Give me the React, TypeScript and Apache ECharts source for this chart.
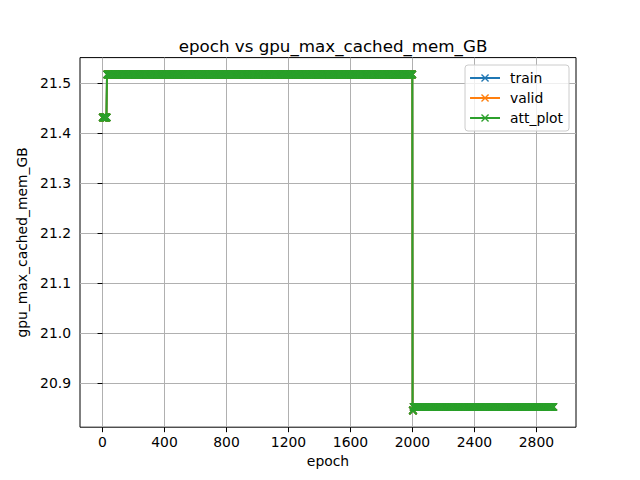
import React, { useEffect, useRef } from "react";
import * as echarts from "echarts";

// Constant-value segments (epoch ranges and values)
const segStartEpoch = [0, 29, 2001, 2007];
const segEndEpoch = [28, 2000, 2006, 2910];
const segValue = [21.431, 21.517, 20.845, 20.852];

const seriesNames = ["train", "valid", "att_plot"];
const seriesColors = ["#1f77b4", "#ff7f0e", "#2ca02c"];

const xTicks = [0, 400, 800, 1200, 1600, 2000, 2400, 2800];
const yTicks = [20.9, 21.0, 21.1, 21.2, 21.3, 21.4, 21.5];

const c = 1.2;
const xSymbol = `path://M${c},0L5,${5 - c}L${10 - c},0L10,${c}L${5 + c},5L10,${10 - c}L${10 - c},10L5,${5 + c}L${c},10L0,${10 - c}L${5 - c},5L0,${c}Z`;

function buildPoints(): number[][] {
  const pts: number[][] = [];
  for (let s = 0; s < segValue.length; s++) {
    for (let e = segStartEpoch[s]; e <= segEndEpoch[s]; e++) {
      pts.push([e, segValue[s]]);
    }
  }
  return pts;
}

export default function App() {
  const ref = useRef<HTMLDivElement>(null);
  useEffect(() => {
    if (!ref.current) return;
    const chart = echarts.init(ref.current, null, { renderer: "svg" });
    const pts = buildPoints();
    const xMin = segStartEpoch[0];
    const xMax = segEndEpoch[segEndEpoch.length - 1];
    const xPad = (xMax - xMin) * 0.05;
    const yMin = Math.min(...segValue);
    const yMax = Math.max(...segValue);
    const yPad = (yMax - yMin) * 0.05;
    const font = "DejaVu Sans";
    chart.setOption({
      animation: false,
      backgroundColor: "#ffffff",
      title: {
        text: "epoch vs gpu_max_cached_mem_GB",
        left: 328,
        top: 32,
        textAlign: "center",
        textStyle: { fontFamily: font, fontSize: 16.7, fontWeight: "normal", color: "#000" },
      },
      legend: {
        orient: "vertical",
        right: 71,
        top: 65,
        padding: [6, 6, 6, 4],
        itemGap: 6,
        itemWidth: 30,
        itemHeight: 10,
        backgroundColor: "rgba(255,255,255,0.8)",
        borderColor: "#cccccc",
        borderWidth: 1,
        borderRadius: 3,
        textStyle: { fontFamily: font, fontSize: 13.9, color: "#000", padding: [0, 0, 0, 5] },
        data: seriesNames,
      },
      grid: {
        left: 80,
        right: 64,
        top: 57.6,
        bottom: 52.8,
        show: true,
        borderColor: "#000",
        borderWidth: 1,
        backgroundColor: "transparent",
      },
      xAxis: {
        type: "value",
        min: xMin - xPad,
        max: xMax + xPad,
        name: "epoch",
        nameLocation: "middle",
        nameGap: 27,
        nameTextStyle: { fontFamily: font, fontSize: 13.9, color: "#000" },
        axisLine: { show: false },
        axisTick: { show: true, customValues: xTicks, length: 5, lineStyle: { color: "#000", width: 1 } },
        axisLabel: {
          customValues: xTicks,
          margin: 8,
          fontFamily: font,
          fontSize: 13.9,
          color: "#000",
          formatter: (v: number) => String(Math.round(v)),
        },
        splitLine: { show: true, lineStyle: { color: "#b0b0b0", width: 1 } },
      },
      yAxis: {
        type: "value",
        min: yMin - yPad,
        max: yMax + yPad,
        name: "gpu_max_cached_mem_GB",
        nameLocation: "middle",
        nameGap: 46,
        nameTextStyle: { fontFamily: font, fontSize: 13.9, color: "#000" },
        axisLine: { show: false },
        axisTick: { show: true, customValues: yTicks, length: 5, lineStyle: { color: "#000", width: 1 } },
        axisLabel: {
          customValues: yTicks,
          margin: 9,
          fontFamily: font,
          fontSize: 13.9,
          color: "#000",
          formatter: (v: number) => v.toFixed(1),
        },
        splitLine: { show: true, lineStyle: { color: "#b0b0b0", width: 1 } },
      },
      series: seriesNames.map((name, i) => ({
        name,
        type: "line",
        data: pts,
        color: seriesColors[i],
        symbol: xSymbol,
        symbolSize: 8,
        showSymbol: true,
        showAllSymbol: true,
        lineStyle: { width: 2, color: seriesColors[i] },
        itemStyle: { color: seriesColors[i] },
        z: 2 + i,
      })),
    });
    return () => chart.dispose();
  }, []);
  return (
    <div
      ref={ref}
      style={{ position: "fixed", left: 0, top: 0, width: 640, height: 480 }}
    />
  );
}
